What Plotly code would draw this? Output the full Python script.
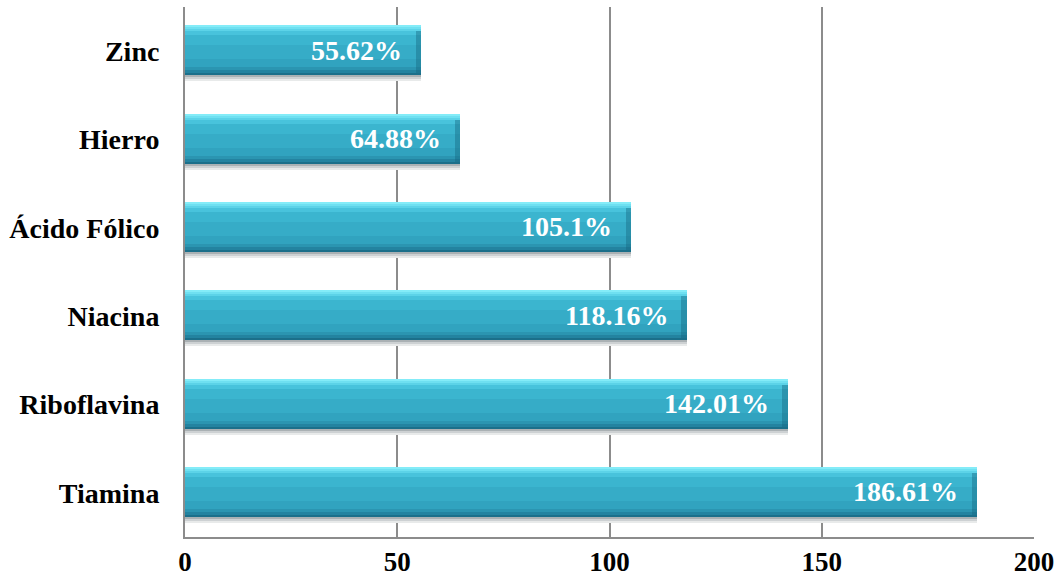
import plotly.graph_objects as go

categories = ["Tiamina", "Riboflavina", "Niacina", "Ácido Fólico", "Hierro", "Zinc"]
values = [186.61, 142.01, 118.16, 105.1, 64.88, 55.62]
x_ticks = [0, 50, 100, 150, 200]

FONT = "Liberation Serif, Times New Roman, serif"
PX_PER_CAT = 530 / 6.0  # plot height / number of categories

# vertical gradient strips (pixel offsets from category centre, downward positive)
strips = [
    (-26, -24, "#84ecf8"),
    (-24, -22, "#6fe0f1"),
    (-22, -20, "#5cd3e8"),
    (-20, -16, "#48c3dc"),
    (-16, -6, "#3bb5cf"),
    (-6, 8, "#36acc7"),
    (8, 16, "#31a3bf"),
    (16, 19, "#2b95b1"),
    (19, 22, "#2383a0"),
    (22, 24, "#1b6f8a"),
]
shadow = [
    (24, 26, "#aab1b4"),
    (26, 28, "#cdd1d3"),
    (28, 30, "#e8eaea"),
]

fig = go.Figure()

def add_strip(top, bottom, color):
    # convert pixel offsets to category units (y axis increases upward)
    off = -bottom / PX_PER_CAT
    w = (bottom - top) / PX_PER_CAT
    fig.add_trace(go.Bar(
        y=categories, x=values, orientation="h",
        offset=off, width=w,
        marker=dict(color=color, line=dict(width=0)),
        hoverinfo="skip", showlegend=False,
    ))

for t, b, c in shadow:
    add_strip(t, b, c)
for t, b, c in strips:
    add_strip(t, b, c)

# right-end darker bevel
fig.add_trace(go.Bar(
    y=categories, x=[-1.3] * len(values), base=values, orientation="h",
    offset=-22 / PX_PER_CAT, width=42 / PX_PER_CAT,
    marker=dict(color="rgba(20,100,125,0.4)", line=dict(width=0)),
    hoverinfo="skip", showlegend=False,
))

for cat, v in zip(categories, values):
    fig.add_annotation(
        x=v, y=cat, xref="x", yref="y", text=f"{v}%",
        showarrow=False, xanchor="right", xshift=-17, yshift=1,
        font=dict(family=FONT, size=28, color="white", weight="bold"),
    )

fig.update_layout(
    width=1059, height=581,
    margin=dict(l=185, r=25, t=7, b=44, autoexpand=False),
    paper_bgcolor="white", plot_bgcolor="white",
    barmode="overlay", bargap=0,
    showlegend=False,
    font=dict(family=FONT, size=28, color="black", weight="bold"),
    xaxis=dict(
        range=[0, 200], tickvals=x_ticks, ticktext=[str(t) for t in x_ticks],
        showgrid=True, gridcolor="#8c8c8c", gridwidth=1.5,
        showline=True, linecolor="#8c8c8c", linewidth=2,
        zeroline=False, ticks="", ticklabelstandoff=0,
        tickfont=dict(family=FONT, size=27, color="black", weight="bold"),
        fixedrange=True, automargin=False,
    ),
    yaxis=dict(
        categoryorder="array", categoryarray=categories,
        range=[-0.5, 5.5],
        showgrid=False, showline=True, linecolor="#8c8c8c", linewidth=2,
        ticks="", ticklabelstandoff=18,
        tickfont=dict(family=FONT, size=28, color="black", weight="bold"),
        fixedrange=True, automargin=False,
    ),
)

fig.write_html("out.html")
